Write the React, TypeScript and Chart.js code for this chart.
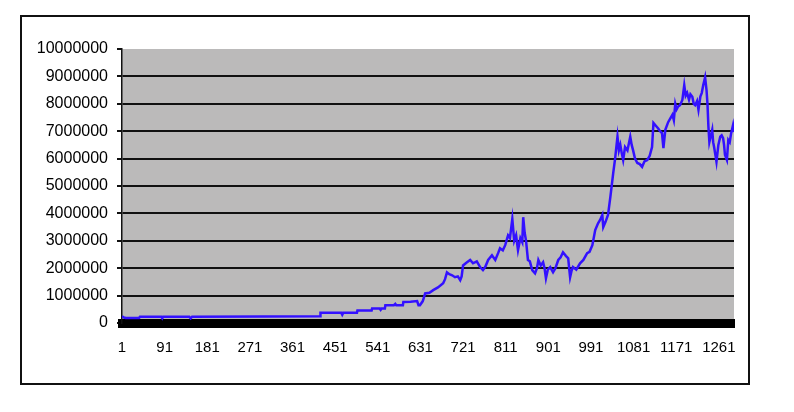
import React, { useEffect, useRef } from "react";
import { Chart, registerables } from "chart.js";

Chart.register(...registerables);

// Day index (category number) of each sampled point
const dayIndex = [
  1, 5, 9, 37, 39, 84, 86, 88, 143, 146, 149, 300, 419, 420, 464, 466, 468, 497, 498, 528,
  529, 545, 547, 549, 556, 557, 575, 578, 580, 594, 595, 610, 624, 627, 630, 636, 641, 650, 658, 668,
  679, 683, 687, 692, 698, 704, 710, 715, 718, 721, 728, 736, 742, 750, 757, 763, 768, 774, 782, 789,
  795, 799, 805, 810, 816, 820, 825, 829, 833, 837, 842, 846, 848, 851, 854, 858, 862, 867, 873, 877,
  880, 885, 890, 893, 896, 900, 905, 911, 916, 922, 927, 932, 938, 943, 945, 947, 950, 953, 960, 968,
  975, 983, 988, 994, 1000, 1006, 1010, 1015, 1017, 1022, 1027, 1032, 1038, 1042, 1047, 1050, 1053, 1056, 1059, 1063,
  1068, 1074, 1077, 1080, 1084, 1089, 1094, 1099, 1104, 1110, 1115, 1120, 1123, 1128, 1133, 1137, 1141, 1144, 1148, 1154,
  1158, 1163, 1166, 1169, 1172, 1175, 1179, 1184, 1188, 1191, 1194, 1198, 1201, 1205, 1208, 1211, 1215, 1218, 1222, 1225,
  1228, 1232, 1235, 1237, 1239, 1241, 1243, 1245, 1247, 1249, 1251, 1254, 1256, 1260, 1264, 1267, 1270, 1272, 1274, 1278,
  1281, 1284, 1287, 1291, 1293,
];

// Series value at each sampled day
const equity = [
  250000, 200000, 180000, 180000, 230000, 230000, 170000, 230000, 230000, 170000, 230000, 240000, 250000, 370000, 370000, 300000, 370000, 370000, 460000, 460000,
  530000, 530000, 480000, 530000, 530000, 650000, 650000, 700000, 650000, 650000, 770000, 780000, 800000, 650000, 650000, 800000, 1080000, 1100000, 1200000, 1300000,
  1450000, 1600000, 1850000, 1780000, 1740000, 1670000, 1700000, 1560000, 1700000, 2100000, 2200000, 2300000, 2180000, 2250000, 2040000, 1930000, 2050000, 2300000, 2470000, 2300000,
  2550000, 2730000, 2650000, 2840000, 3200000, 3100000, 3800000, 3000000, 3200000, 2660000, 3100000, 2950000, 3860000, 3300000, 3000000, 2300000, 2250000, 1930000, 1810000, 2000000,
  2300000, 2100000, 2220000, 2000000, 1630000, 1950000, 2040000, 1850000, 2000000, 2300000, 2400000, 2580000, 2450000, 2360000, 2000000, 1670000, 1900000, 2040000, 1950000, 2180000,
  2300000, 2550000, 2600000, 2840000, 3390000, 3640000, 3750000, 3940000, 3500000, 3700000, 3940000, 4600000, 5470000, 6000000, 6800000, 6300000, 6500000, 6200000, 5950000, 6420000,
  6300000, 6800000, 6500000, 6300000, 6000000, 5840000, 5800000, 5700000, 5900000, 5950000, 6100000, 6420000, 7300000, 7200000, 7100000, 7000000, 6930000, 6380000, 7050000, 7330000,
  7450000, 7600000, 7400000, 8000000, 7800000, 7900000, 7950000, 8140000, 8680000, 8300000, 8400000, 8150000, 8350000, 8260000, 8000000, 7950000, 8100000, 7780000, 8260000, 8400000,
  8680000, 8970000, 8500000, 8000000, 7160000, 6600000, 6750000, 6900000, 7050000, 6600000, 6420000, 6100000, 5880000, 6500000, 6800000, 6850000, 6750000, 6500000, 6130000, 5950000,
  6680000, 6600000, 6930000, 7230000, 6970000,
];

const xTickValues = [1, 91, 181, 271, 361, 451, 541, 631, 721, 811, 901, 991, 1081, 1171, 1261];
const xMin = 1;
const xMax = 1293;
const yMin = 0;
const yMax = 10000000;
const yStep = 1000000;

const framePlugin = {
  id: "frame",
  beforeDraw(chart: any) {
    const { ctx, chartArea } = chart;
    ctx.save();
    ctx.fillStyle = "#ffffff";
    ctx.fillRect(0, 0, chart.width, chart.height);
    ctx.strokeStyle = "#111111";
    ctx.lineWidth = 2;
    ctx.strokeRect(21, 16, 728, 368);
    ctx.fillStyle = "#bbbaba";
    ctx.fillRect(chartArea.left, chartArea.top, chartArea.right - chartArea.left, chartArea.bottom - chartArea.top);
    ctx.restore();
  },
};

export default function App() {
  const ref = useRef<HTMLCanvasElement | null>(null);
  useEffect(() => {
    if (!ref.current) return;
    const points = dayIndex.map((d, i) => ({ x: d, y: equity[i] }));
    const family = "'Liberation Sans', Arial, sans-serif";
    const chart = new Chart(ref.current, {
      type: "line",
      data: {
        datasets: [
          {
            data: points,
            borderColor: "#3311ff",
            borderWidth: 2.5,
            pointRadius: 0,
            tension: 0,
            fill: false,
          },
        ],
      },
      options: {
        animation: false,
        responsive: false,
        events: [],
        layout: { padding: { left: 20, top: 49, right: 60, bottom: 0 } },
        plugins: { legend: { display: false }, tooltip: { enabled: false } },
        scales: {
          x: {
            type: "linear",
            min: xMin,
            max: xMax,
            afterBuildTicks: (scale: any) => {
              scale.ticks = xTickValues.map((v) => ({ value: v }));
            },
            afterFit: (scale: any) => {
              scale.height = 89;
            },
            grid: { display: false, drawTicks: false, tickLength: 0 },
            border: { display: true, color: "#000000", width: 9 },
            ticks: {
              color: "#000000",
              font: { family, size: 15 },
              padding: 16,
              maxRotation: 0,
              autoSkip: false,
              callback: (v: any) => String(v),
            },
          },
          y: {
            min: yMin,
            max: yMax,
            afterFit: (scale: any) => {
              scale.width = 102;
            },
            grid: {
              color: (c: any) => (c.tick && c.tick.value === yMax ? "rgba(0,0,0,0)" : "#111111"),
              tickColor: "#111111",
              lineWidth: 2,
              tickLength: 5,
            },
            border: { display: true, color: "#111111", width: 1.5 },
            ticks: {
              stepSize: yStep,
              color: "#000000",
              font: { family, size: 16 },
              padding: 9,
              callback: (v: any) => String(v),
            },
          },
        },
      },
      plugins: [framePlugin],
    });
    return () => chart.destroy();
  }, []);
  return (
    <div style={{ position: "absolute", left: 0, top: 0, width: 794, height: 412, background: "#fff" }}>
      <canvas ref={ref} width={794} height={412} style={{ display: "block" }} />
    </div>
  );
}
